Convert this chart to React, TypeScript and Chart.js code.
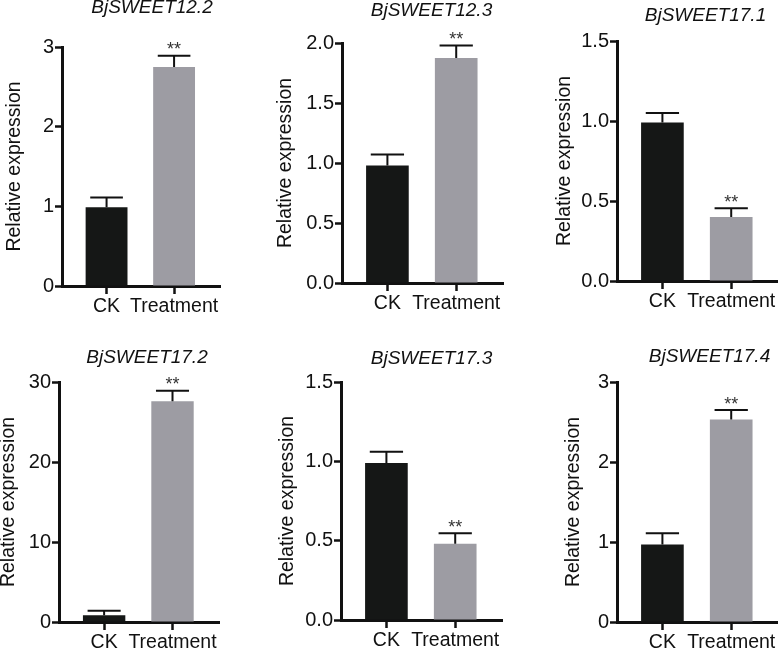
import React, { useEffect, useRef } from "react";
import { Chart, registerables } from "chart.js";

Chart.register(...registerables);

// ---------- data ----------
const geneNames = ["BjSWEET12.2", "BjSWEET12.3", "BjSWEET17.1", "BjSWEET17.2", "BjSWEET17.3", "BjSWEET17.4"];
const categories = ["CK", "Treatment"];
const ckMeans = [0.99, 0.98, 0.99, 0.85, 0.99, 0.97];
const ckErrors = [0.12, 0.09, 0.06, 0.55, 0.07, 0.14];
const treatmentMeans = [2.75, 1.875, 0.4, 27.6, 0.48, 2.53];
const treatmentErrors = [0.14, 0.105, 0.055, 1.3, 0.067, 0.12];
const treatmentMarks = ["**", "**", "**", "**", "**", "**"];
const yMaxValues = [3, 2, 1.5, 30, 1.5, 3];
const yStepValues = [1, 0.5, 0.5, 10, 0.5, 1];
const yDecimals = [0, 1, 1, 0, 1, 0];
const yAxisLabel = "Relative expression";

// ---------- layout / style ----------
const FONT = '"Liberation Sans", Arial, Helvetica, sans-serif';
const INK = "#111111";
const barColors = ["#151716", "#9d9ca3"];

const panels = [
  { left: 0, top: 0, w: 259, h: 326, l: 62, r: 220, t: 47, b: 286, titleX: 152, titleY: 8, yTitleX: 15 },
  { left: 259, top: 0, w: 259, h: 326, l: 83, r: 244, t: 43, b: 283, titleX: 172.5, titleY: 11, yTitleX: 27 },
  { left: 518, top: 0, w: 260, h: 326, l: 99, r: 260, t: 41, b: 281, titleX: 187.5, titleY: 16, yTitleX: 47 },
  { left: 0, top: 326, w: 259, h: 326, l: 59, r: 219, t: 56, b: 296, titleX: 147, titleY: 32, yTitleX: 9 },
  { left: 259, top: 326, w: 259, h: 326, l: 82, r: 243, t: 56, b: 294, titleX: 172.5, titleY: 33, yTitleX: 29 },
  { left: 518, top: 326, w: 260, h: 326, l: 99, r: 260, t: 56, b: 296, titleX: 191.5, titleY: 30.5, yTitleX: 56 },
];

const errorBarPlugin = {
  id: "errorBars",
  afterDatasetsDraw(chart: any, _args: any, opts: any) {
    const { ctx } = chart;
    const yScale = chart.scales.y;
    const meta = chart.getDatasetMeta(0);
    const data = chart.data.datasets[0].data as any[];
    meta.data.forEach((bar: any, i: number) => {
      const v = data[i].y;
      const topY = yScale.getPixelForValue(v + opts.errors[i]);
      const x = bar.x;
      const capHalf = bar.width * 0.39;
      ctx.save();
      ctx.strokeStyle = INK;
      ctx.lineWidth = 2;
      ctx.beginPath();
      ctx.moveTo(x, bar.y);
      ctx.lineTo(x, topY);
      ctx.moveTo(x - capHalf, topY);
      ctx.lineTo(x + capHalf, topY);
      ctx.stroke();
      const mark = opts.marks[i];
      if (mark) {
        ctx.font = `18px ${FONT}`;
        ctx.fillStyle = "#333333";
        ctx.textAlign = "center";
        ctx.textBaseline = "alphabetic";
        ctx.fillText(mark, x, topY - 0.5);
      }
      ctx.restore();
    });
  },
};

const panelTitlePlugin = {
  id: "panelTitle",
  afterDraw(chart: any, _args: any, opts: any) {
    const { ctx } = chart;
    ctx.save();
    ctx.font = `italic 19px ${FONT}`;
    ctx.fillStyle = INK;
    ctx.textAlign = "center";
    ctx.textBaseline = "middle";
    ctx.fillText(opts.text, opts.x, opts.y);
    ctx.restore();
  },
};

function makeConfig(i: number): any {
  const p = panels[i];
  const yTitleFont = 19.5;
  return {
    type: "bar",
    data: {
      datasets: [
        {
          data: [
            { x: 0, y: ckMeans[i] },
            { x: 1, y: treatmentMeans[i] },
          ],
          backgroundColor: barColors,
          borderWidth: 0,
          barPercentage: 0.62,
          categoryPercentage: 1,
        },
      ],
    },
    plugins: [errorBarPlugin, panelTitlePlugin],
    options: {
      responsive: false,
      animation: false,
      events: [],
      layout: { padding: { left: 0, top: p.t, right: p.w - p.r, bottom: 0 } },
      plugins: {
        legend: { display: false },
        tooltip: { enabled: false },
        title: { display: false },
        errorBars: { errors: [ckErrors[i], treatmentErrors[i]], marks: ["", treatmentMarks[i]] },
        panelTitle: { text: geneNames[i], x: p.titleX, y: p.titleY },
      },
      scales: {
        x: {
          type: "linear",
          min: -0.66,
          max: 1.68,
          offset: false,
          afterBuildTicks: (s: any) => {
            s.ticks = [{ value: 0 }, { value: 1 }];
          },
          afterFit: (s: any) => {
            s.height = p.h - p.b;
          },
          grid: {
            display: true,
            drawOnChartArea: false,
            drawTicks: true,
            tickLength: 8,
            tickWidth: 2.5,
            tickColor: INK,
            offset: false,
          },
          border: { display: true, color: INK, width: 3 },
          ticks: {
            callback: (v: any) => categories[v] ?? "",
            font: { size: 19.5, family: FONT },
            color: INK,
            padding: 1,
            maxRotation: 0,
            autoSkip: false,
          },
        },
        y: {
          type: "linear",
          min: 0,
          max: yMaxValues[i],
          afterFit: (s: any) => {
            s.width = p.l;
          },
          grid: {
            display: true,
            drawOnChartArea: false,
            drawTicks: true,
            tickLength: 7,
            tickWidth: 2.5,
            tickColor: INK,
          },
          border: { display: true, color: INK, width: 3 },
          ticks: {
            stepSize: yStepValues[i],
            callback: (v: any) => Number(v).toFixed(yDecimals[i]),
            font: { size: 20, family: FONT },
            color: INK,
            padding: 1,
          },
          title: {
            display: true,
            text: yAxisLabel,
            font: { size: yTitleFont, family: FONT },
            color: INK,
            padding: { top: p.yTitleX - (yTitleFont * 1.2) / 2, bottom: 0 },
          },
        },
      },
    },
  };
}

function Panel({ index }: { index: number }) {
  const ref = useRef<HTMLCanvasElement>(null);
  useEffect(() => {
    if (!ref.current) return;
    const chart = new Chart(ref.current, makeConfig(index));
    return () => chart.destroy();
  }, [index]);
  const p = panels[index];
  return (
    <canvas
      ref={ref}
      width={p.w}
      height={p.h}
      style={{ position: "absolute", left: p.left, top: p.top, width: p.w, height: p.h }}
    />
  );
}

export default function App() {
  return (
    <div
      style={{
        position: "absolute",
        left: 0,
        top: 0,
        width: 778,
        height: 652,
        background: "#ffffff",
        overflow: "hidden",
      }}
    >
      {geneNames.map((_, i) => (
        <Panel key={i} index={i} />
      ))}
    </div>
  );
}
